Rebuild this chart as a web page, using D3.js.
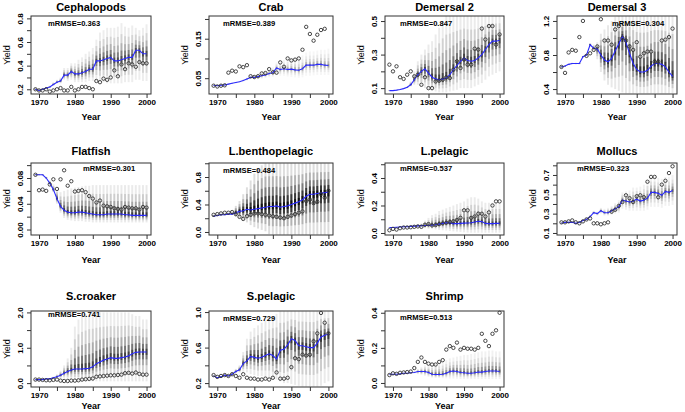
<!DOCTYPE html>
<html><head><meta charset="utf-8">
<script src="https://cdn.jsdelivr.net/npm/d3@7"></script>
<style>
body{margin:0;background:#fff}
svg{display:block}
text{font-family:"Liberation Sans",Arial,sans-serif;fill:#000}
</style>
</head><body>
<svg id="chart" width="685" height="412"></svg>
<script>
// ---------------- DATA ----------------
const years = [1969,1970,1971,1972,1973,1974,1975,1976,1977,1978,1979,1980,1981,1982,1983,1984,1985,1986,1987,1988,1989,1990,1991,1992,1993,1994,1995,1996,1997,1998,1999,2000];
const xTicks = [1970,1975,1980,1985,1990,1995,2000];
const xTickLabels = [1970,1980,1990,2000];

const panelNames = ["Cephalopods","Crab","Demersal 2","Demersal 3","Flatfish","L.benthopelagic","L.pelagic","Mollucs","S.croaker","S.pelagic","Shrimp"];
const mrmseValues = ["0.363","0.389","0.847","0.304","0.301","0.484","0.537","0.323","0.741","0.729","0.513"];

const yDomains = [[0.16,0.82],[0.01,0.2075],[0.065,0.53],[0.342,1.258],[-0.0085,0.1033],[-0.044,1.004],[-0.0145,0.509],[0.079,0.824],[-0.11,2.04],[0.156,1.012],[-0.023,0.41]];
const yTickValues = [
  [0.2,0.3,0.4,0.5,0.6,0.7,0.8],
  [0.05,0.10,0.15,0.20],
  [0.1,0.2,0.3,0.4,0.5],
  [0.4,0.6,0.8,1.0,1.2],
  [0,0.02,0.04,0.06,0.08,0.10],
  [0,0.2,0.4,0.6,0.8,1.0],
  [0,0.1,0.2,0.3,0.4,0.5],
  [0.1,0.2,0.3,0.4,0.5,0.6,0.7,0.8],
  [0,0.5,1.0,1.5,2.0],
  [0.2,0.4,0.6,0.8,1.0],
  [0,0.1,0.2,0.3,0.4]
];
const yTickLabels = [
  {0.2:"0.2",0.4:"0.4",0.6:"0.6",0.8:"0.8"},
  {0.05:"0.05",0.15:"0.15"},
  {0.1:"0.1",0.3:"0.3",0.5:"0.5"},
  {0.4:"0.4",0.8:"0.8",1.2:"1.2"},
  {0:"0.00",0.04:"0.04",0.08:"0.08"},
  {0:"0.0",0.4:"0.4",0.8:"0.8"},
  {0:"0.0",0.2:"0.2",0.4:"0.4"},
  {0.1:"0.1",0.3:"0.3",0.5:"0.5",0.7:"0.7"},
  {0:"0.0",1:"1.0",2:"2.0"},
  {0.2:"0.2",0.6:"0.6",1:"1.0"},
  {0:"0.0",0.2:"0.2",0.4:"0.4"}
];

// Cephalopods
const cephMed = [0.20,0.19,0.20,0.21,0.22,0.24,0.26,0.27,0.32,0.32,0.35,0.33,0.33,0.34,0.35,0.37,0.37,0.44,0.44,0.45,0.46,0.47,0.44,0.44,0.45,0.46,0.47,0.47,0.53,0.53,0.50,0.50];
const cephObs = [0.20,0.19,0.19,0.20,0.18,0.19,0.20,0.21,0.19,0.19,0.22,0.19,0.20,0.22,0.22,0.21,0.20,0.27,0.26,0.29,0.28,0.30,0.36,0.31,0.41,0.37,0.42,0.41,0.39,0.43,0.42,0.42];
const cephLo  = [0.19,0.18,0.19,0.20,0.21,0.23,0.25,0.25,0.28,0.27,0.28,0.26,0.26,0.26,0.26,0.27,0.27,0.27,0.26,0.26,0.25,0.25,0.25,0.25,0.25,0.26,0.26,0.26,0.28,0.28,0.27,0.27];
const cephHi  = [0.21,0.20,0.21,0.22,0.23,0.26,0.28,0.30,0.38,0.38,0.42,0.42,0.45,0.47,0.50,0.52,0.55,0.62,0.68,0.70,0.72,0.72,0.72,0.73,0.76,0.73,0.72,0.74,0.72,0.70,0.72,0.75];
// Crab
const crabMed = [0.032,0.031,0.032,0.033,0.035,0.037,0.039,0.041,0.044,0.048,0.052,0.052,0.054,0.056,0.058,0.062,0.064,0.076,0.072,0.074,0.072,0.073,0.071,0.070,0.074,0.083,0.083,0.083,0.085,0.085,0.083,0.082];
const crabObs = [0.031,0.029,0.031,0.032,0.064,0.069,0.067,0.080,0.078,0.083,0.055,0.053,0.055,0.062,0.063,0.073,0.065,0.064,0.090,0.079,0.100,0.095,0.097,0.100,0.122,0.180,0.162,0.145,0.160,0.172,0.175,null];
const crabLo  = [0.030,0.029,0.030,0.031,0.033,0.035,0.037,0.039,0.041,0.044,0.047,0.046,0.047,0.048,0.050,0.052,0.053,0.058,0.056,0.056,0.054,0.053,0.052,0.051,0.052,0.056,0.056,0.057,0.058,0.058,0.058,0.058];
const crabHi  = [0.034,0.033,0.034,0.035,0.037,0.039,0.041,0.043,0.047,0.052,0.058,0.060,0.062,0.066,0.070,0.074,0.078,0.090,0.092,0.096,0.100,0.102,0.102,0.104,0.108,0.115,0.118,0.118,0.120,0.122,0.122,0.125];
// Demersal 2
const dem2Med = [0.085,0.085,0.088,0.092,0.097,0.105,0.12,0.15,0.18,0.20,0.215,0.19,0.165,0.155,0.15,0.155,0.16,0.18,0.21,0.235,0.26,0.28,0.265,0.26,0.265,0.28,0.30,0.33,0.36,0.38,0.38,0.385];
const dem2Obs = [0.24,0.20,0.23,0.165,0.155,0.18,0.20,0.17,0.18,0.12,0.165,0.10,0.10,0.14,0.145,0.15,0.165,0.16,0.21,0.26,0.22,0.27,0.24,0.24,0.335,0.33,0.455,0.39,0.47,0.47,0.36,0.42];
const dem2Lo  = [0.083,0.083,0.086,0.09,0.094,0.10,0.11,0.12,0.12,0.11,0.10,0.09,0.085,0.08,0.075,0.075,0.075,0.08,0.085,0.09,0.10,0.10,0.10,0.10,0.11,0.12,0.13,0.15,0.17,0.18,0.19,0.20];
const dem2Hi  = [0.088,0.088,0.09,0.095,0.10,0.11,0.14,0.20,0.26,0.30,0.33,0.36,0.38,0.42,0.46,0.50,0.53,0.53,0.53,0.53,0.53,0.53,0.53,0.53,0.53,0.53,0.53,0.53,0.53,0.53,0.53,0.53];
// Demersal 3
const dem3Med = [0.66,0.67,0.69,0.70,0.70,0.70,0.78,0.80,0.92,0.88,0.87,0.80,0.74,0.72,0.76,0.85,0.93,1.02,0.95,0.82,0.70,0.63,0.60,0.60,0.62,0.67,0.70,0.70,0.69,0.66,0.60,0.55];
const dem3Obs = [0.66,0.59,0.83,0.86,0.85,1.01,1.20,0.79,0.82,0.86,0.90,1.22,0.97,0.97,0.92,1.10,1.14,1.00,0.97,0.90,0.86,0.95,0.78,0.82,0.84,0.84,0.72,0.72,0.97,0.98,1.01,1.11];
const dem3Lo  = [0.65,0.66,0.68,0.69,0.69,0.69,0.77,0.79,0.90,0.85,0.75,0.60,0.50,0.45,0.42,0.40,0.38,0.36,0.35,0.35,0.35,0.35,0.35,0.35,0.35,0.35,0.35,0.35,0.35,0.35,0.35,0.35];
const dem3Hi  = [0.67,0.68,0.70,0.71,0.71,0.71,0.79,0.81,0.94,0.92,0.95,1.05,1.10,1.15,1.20,1.25,1.26,1.26,1.26,1.26,1.26,1.26,1.26,1.26,1.26,1.26,1.26,1.26,1.26,1.26,1.26,1.26];
// Flatfish
const flatMed = [0.085,0.085,0.085,0.080,0.072,0.062,0.048,0.036,0.030,0.027,0.026,0.026,0.027,0.027,0.026,0.025,0.024,0.023,0.023,0.023,0.024,0.024,0.024,0.024,0.024,0.023,0.023,0.022,0.022,0.022,0.022,0.022];
const flatObs = [0.085,0.061,0.062,0.060,0.070,0.078,0.063,0.078,0.092,0.068,0.075,0.059,0.060,0.061,0.058,0.052,0.048,0.042,0.045,0.037,0.036,0.035,0.033,0.032,0.031,0.035,0.034,0.033,0.033,0.031,0.035,0.034];
const flatLo  = [0.084,0.084,0.084,0.079,0.070,0.058,0.040,0.026,0.018,0.015,0.014,0.013,0.013,0.013,0.012,0.012,0.011,0.011,0.011,0.011,0.011,0.011,0.011,0.011,0.011,0.011,0.011,0.011,0.011,0.011,0.011,0.011];
const flatHi  = [0.086,0.086,0.086,0.082,0.076,0.070,0.062,0.058,0.060,0.062,0.064,0.065,0.066,0.067,0.068,0.068,0.069,0.069,0.069,0.069,0.069,0.069,0.069,0.069,0.069,0.069,0.069,0.069,0.069,0.069,0.069,0.069];
// L.benthopelagic
const lbenMed = [0.23,0.24,0.25,0.25,0.26,0.26,0.28,0.30,0.31,0.33,0.32,0.33,0.34,0.35,0.36,0.37,0.37,0.38,0.36,0.37,0.38,0.40,0.42,0.44,0.47,0.52,0.55,0.55,0.56,0.57,0.57,0.58];
const lbenObs = [0.25,0.26,0.27,0.28,0.28,0.29,0.26,0.22,0.19,0.23,0.25,0.27,0.27,0.26,0.25,0.24,0.23,0.22,0.21,0.20,0.22,0.24,0.26,0.28,0.30,0.45,0.47,0.42,0.44,0.55,0.50,0.60];
const lbenLo  = [0.22,0.23,0.24,0.24,0.25,0.25,0.22,0.20,0.17,0.14,0.10,0.07,0.05,0.03,0.01,-0.03,-0.04,-0.04,-0.04,-0.04,-0.04,-0.04,-0.04,-0.04,-0.04,-0.04,-0.04,-0.04,-0.04,-0.04,-0.04,-0.04];
const lbenHi  = [0.25,0.26,0.27,0.27,0.28,0.30,0.38,0.45,0.55,0.65,0.75,0.85,0.92,0.97,1.00,1.00,1.00,1.00,1.00,1.00,1.00,1.00,1.00,1.00,1.00,1.00,1.00,1.00,1.00,1.00,1.00,1.00];
// L.pelagic
const lpelMed = [0.040,0.040,0.042,0.044,0.045,0.046,0.048,0.050,0.052,0.054,0.055,0.055,0.058,0.060,0.065,0.070,0.075,0.072,0.068,0.068,0.070,0.072,0.073,0.075,0.080,0.085,0.083,0.070,0.068,0.068,0.070,0.070];
const lpelObs = [0.020,0.030,0.025,0.035,0.040,0.040,0.042,0.045,0.048,0.045,0.060,0.065,0.055,0.058,0.065,0.070,0.075,0.080,0.085,0.095,0.110,0.165,0.165,0.110,0.120,0.140,0.140,0.120,0.150,0.200,0.230,0.230];
const lpelLo  = [0.038,0.038,0.040,0.042,0.043,0.044,0.045,0.046,0.045,0.040,0.035,0.030,0.028,0.025,0.022,0.020,0.018,0.015,0.012,0.010,0.008,0.005,0.003,0.002,0.002,0.002,0.002,0.002,0.002,0.002,0.002,0.002];
const lpelHi  = [0.042,0.043,0.045,0.047,0.049,0.050,0.053,0.056,0.060,0.070,0.090,0.110,0.130,0.140,0.160,0.170,0.180,0.190,0.200,0.210,0.220,0.230,0.250,0.260,0.260,0.250,0.230,0.220,0.220,0.220,0.220,0.220];
// Mollucs
const mollMed = [0.20,0.21,0.21,0.21,0.20,0.21,0.23,0.24,0.27,0.31,0.30,0.33,0.31,0.31,0.33,0.35,0.37,0.44,0.43,0.42,0.43,0.45,0.43,0.44,0.46,0.52,0.52,0.51,0.49,0.53,0.52,0.54];
const mollObs = [0.21,0.21,0.22,0.23,0.21,0.20,0.22,0.24,0.25,0.20,0.20,0.19,0.20,0.21,0.32,0.34,0.38,0.42,0.49,0.46,0.42,0.48,0.49,0.47,0.63,0.68,0.68,0.47,0.60,0.64,0.72,0.79];
const mollLo  = [0.20,0.20,0.20,0.20,0.19,0.20,0.22,0.23,0.26,0.29,0.28,0.30,0.28,0.28,0.29,0.30,0.31,0.35,0.34,0.33,0.33,0.33,0.33,0.33,0.34,0.37,0.37,0.37,0.36,0.38,0.38,0.39];
const mollHi  = [0.22,0.22,0.22,0.22,0.21,0.22,0.24,0.26,0.29,0.33,0.32,0.36,0.35,0.36,0.38,0.41,0.44,0.52,0.53,0.54,0.57,0.57,0.58,0.60,0.64,0.68,0.68,0.67,0.66,0.68,0.68,0.70];
// S.croaker
const scroMed = [0.10,0.10,0.10,0.12,0.12,0.15,0.18,0.22,0.28,0.33,0.37,0.40,0.40,0.40,0.41,0.42,0.46,0.55,0.60,0.65,0.68,0.72,0.70,0.70,0.72,0.74,0.77,0.83,0.87,0.88,0.88,0.88];
const scroObs = [0.10,0.10,0.09,0.08,0.08,0.09,0.10,0.07,0.06,0.06,0.07,0.07,0.08,0.10,0.11,0.12,0.13,0.18,0.19,0.20,0.21,0.22,0.22,0.23,0.24,0.28,0.29,0.27,0.30,0.26,0.24,0.24];
const scroLo  = [0.09,0.09,0.09,0.10,0.10,0.12,0.13,0.14,0.15,0.12,0.10,0.08,0.07,0.06,0.05,0.05,0.05,0.05,0.05,0.05,0.05,0.05,0.05,0.05,0.05,0.05,0.05,0.05,0.05,0.05,0.05,0.05];
const scroHi  = [0.11,0.11,0.11,0.13,0.14,0.18,0.25,0.35,0.50,0.70,1.00,1.60,1.80,1.90,1.95,2.00,2.00,2.00,2.00,2.00,2.00,2.00,2.00,2.00,2.00,2.00,2.00,1.95,1.90,1.90,1.80,1.80];
// S.pelagic
const spelMed = [0.28,0.26,0.27,0.29,0.28,0.30,0.33,0.35,0.42,0.45,0.50,0.49,0.48,0.49,0.51,0.53,0.51,0.47,0.57,0.58,0.63,0.70,0.68,0.62,0.62,0.61,0.60,0.60,0.65,0.72,0.74,0.75];
const spelObs = [0.29,0.27,0.28,0.29,0.28,0.30,0.28,0.26,0.30,0.26,0.25,0.25,0.24,0.24,0.25,0.24,0.26,0.32,0.25,0.25,0.26,0.38,0.48,0.47,0.52,0.51,0.52,0.67,0.76,0.99,0.88,0.76];
const spelLo  = [0.27,0.25,0.26,0.28,0.27,0.29,0.31,0.32,0.33,0.32,0.30,0.29,0.28,0.28,0.27,0.26,0.25,0.24,0.22,0.20,0.20,0.19,0.18,0.17,0.16,0.16,0.16,0.16,0.16,0.17,0.20,0.22];
const spelHi  = [0.29,0.27,0.28,0.30,0.29,0.32,0.36,0.40,0.55,0.70,0.78,0.82,0.85,0.88,0.90,0.92,0.95,0.98,1.01,1.01,1.01,1.01,1.01,1.01,1.01,1.01,1.01,1.01,1.01,1.01,1.01,1.01];
// Shrimp
const shrMed = [0.050,0.050,0.050,0.052,0.055,0.055,0.058,0.060,0.065,0.065,0.065,0.060,0.050,0.048,0.048,0.050,0.055,0.065,0.068,0.065,0.060,0.058,0.055,0.055,0.058,0.062,0.062,0.065,0.068,0.068,0.068,0.065];
const shrObs = [0.045,0.055,0.052,0.058,0.060,0.062,0.065,0.085,0.120,0.145,0.120,0.110,0.105,0.105,0.120,0.130,0.190,0.210,0.200,0.230,0.190,0.200,0.195,0.195,0.190,0.200,0.280,0.240,0.210,0.280,0.300,0.400];
const shrLo  = [0.048,0.048,0.048,0.050,0.052,0.052,0.054,0.055,0.050,0.045,0.040,0.035,0.030,0.028,0.028,0.027,0.026,0.025,0.025,0.024,0.023,0.022,0.022,0.022,0.022,0.022,0.022,0.022,0.022,0.022,0.022,0.022];
const shrHi  = [0.052,0.052,0.052,0.054,0.058,0.058,0.062,0.066,0.080,0.090,0.100,0.100,0.100,0.110,0.115,0.120,0.130,0.140,0.145,0.150,0.155,0.160,0.160,0.165,0.170,0.175,0.180,0.180,0.185,0.185,0.180,0.180];

const medians = [cephMed,crabMed,dem2Med,dem3Med,flatMed,lbenMed,lpelMed,mollMed,scroMed,spelMed,shrMed];
const observed = [cephObs,crabObs,dem2Obs,dem3Obs,flatObs,lbenObs,lpelObs,mollObs,scroObs,spelObs,shrObs];
const lows = [cephLo,crabLo,dem2Lo,dem3Lo,flatLo,lbenLo,lpelLo,mollLo,scroLo,spelLo,shrLo];
const highs = [cephHi,crabHi,dem2Hi,dem3Hi,flatHi,lbenHi,lpelHi,mollHi,scroHi,spelHi,shrHi];

// ---------------- LAYOUT / STYLE ----------------
const colX = [[31,151],[209,333],[385,504],[557,677]];
const rowY = [[16,94],[163,235],[311,387]];
const titleBase = [11,155,300];
const yearBase = [120,263,409];
const mrmsePos = [[48,26],[223,26],[400,26],[612,26],[83,171],[223,173],[400,171],[577,171],[48,317],[223,321],[400,320]];
const shade = [1.0,0.5,1.1,1.3,1.2,1.9,1.1,0.8,1.1,1.2,0.8];
const bands = [[1.0,0.07],[0.7,0.10],[0.45,0.16],[0.25,0.28],[0.1,0.38]];
const FONT = "Liberation Sans, Arial, sans-serif";

const svg = d3.select("#chart");
svg.append("rect").attr("width",685).attr("height",412).attr("fill","#fff");
const defs = svg.append("defs");

panelNames.forEach((name,i)=>{
  const col = i%4, row = Math.floor(i/4);
  const [x0,x1] = colX[col], [y0,y1] = rowY[row];
  const x = d3.scaleLinear().domain([1967.76,2001.24]).range([x0,x1]);
  const y = d3.scaleLinear().domain(yDomains[i]).range([y1,y0]);
  const g = svg.append("g");
  defs.append("clipPath").attr("id","clip"+i).append("rect")
    .attr("x",x0).attr("y",y0).attr("width",x1-x0).attr("height",y1-y0);

  // mRMSE text (drawn under the ensemble bars)
  g.append("text").attr("x",mrmsePos[i][0]).attr("y",mrmsePos[i][1])
    .attr("font-size",7.6).attr("font-weight","bold").attr("fill","#111").text("mRMSE="+mrmseValues[i]);

  // ensemble bars
  const bg = g.append("g").attr("clip-path",`url(#clip${i})`);
  const med = medians[i], lo = lows[i], hi = highs[i];
  bands.forEach(([f,op])=>{
    bg.append("g").selectAll("rect").data(years).join("rect")
      .attr("x",(d)=>x(d)-1)
      .attr("width",2)
      .attr("y",(d,k)=>y(med[k]+f*(hi[k]-med[k])))
      .attr("height",(d,k)=>Math.max(0,y(med[k]-f*(med[k]-lo[k]))-y(med[k]+f*(hi[k]-med[k]))))
      .attr("fill","#000").attr("fill-opacity",Math.min(0.9,op*shade[i]));
  });

  // median line
  g.append("path").datum(years.map((d,k)=>[d,med[k]]))
    .attr("fill","none").attr("stroke","#2a2aff").attr("stroke-width",1.1)
    .attr("clip-path",`url(#clip${i})`)
    .attr("d",d3.line().x(d=>x(d[0])).y(d=>y(d[1])));

  // observations
  const obs = observed[i];
  g.append("g").selectAll("circle").data(years.filter((d,k)=>obs[k]!=null).map(d=>[d,obs[years.indexOf(d)]]))
    .join("circle").attr("cx",d=>x(d[0])).attr("cy",d=>y(d[1])).attr("r",1.7)
    .attr("fill","none").attr("stroke","#333").attr("stroke-width",0.9);

  // box
  g.append("rect").attr("x",x0).attr("y",y0).attr("width",x1-x0).attr("height",y1-y0)
    .attr("fill","none").attr("stroke","#333").attr("stroke-width",1);

  // x axis
  const xa = g.append("g").attr("transform",`translate(0,${y1})`)
    .call(d3.axisBottom(x).tickValues(xTicks).tickSize(4).tickSizeOuter(0)
      .tickFormat(d=>xTickLabels.includes(d)?String(d):""));
  xa.select(".domain").remove();
  xa.selectAll("line").attr("stroke","#333");
  xa.selectAll("text").attr("font-size",8).attr("font-weight","bold").attr("dy","0.6em").attr("y",6).attr("font-family",FONT);

  // y axis
  const ya = g.append("g").attr("transform",`translate(${x0},0)`)
    .call(d3.axisLeft(y).tickValues(yTickValues[i]).tickSize(4).tickSizeOuter(0)
      .tickFormat(d=>yTickLabels[i][d]||""));
  ya.select(".domain").remove();
  ya.selectAll("line").attr("stroke","#333");
  ya.selectAll("text").attr("font-size",8).attr("font-weight","bold").attr("font-family",FONT)
    .attr("x",0).attr("dy",0).attr("y",0)
    .attr("text-anchor","middle")
    .attr("transform","translate(-8.5,0) rotate(-90)");

  // title
  g.append("text").attr("x",(x0+x1)/2).attr("y",titleBase[row]).attr("text-anchor","middle")
    .attr("font-size",11).attr("font-weight","bold").text(name);
  // axis titles
  g.append("text").attr("x",(x0+x1)/2).attr("y",yearBase[row]).attr("text-anchor","middle")
    .attr("font-size",9).attr("font-weight","bold").attr("fill","#222").text("Year");
  g.append("text").attr("transform",`translate(${x0-21},${(y0+y1)/2}) rotate(-90)`)
    .attr("text-anchor","middle").attr("font-size",9).attr("fill","#222").text("Yield");
});
</script>
</body></html>
